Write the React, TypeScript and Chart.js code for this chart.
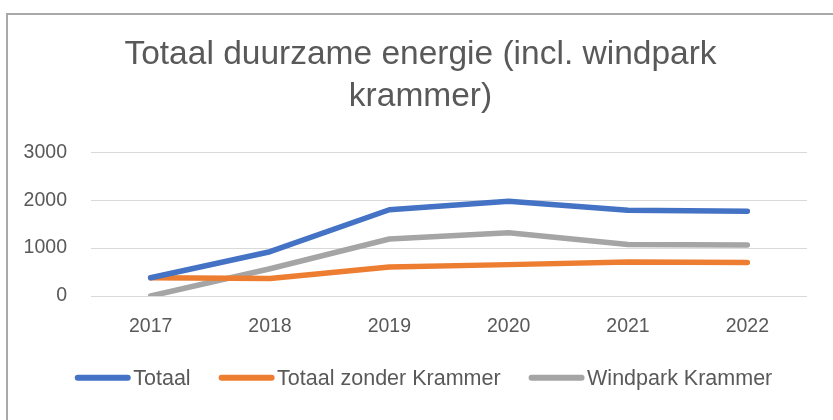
import React, { useEffect, useRef } from "react";
import { Chart, registerables } from "chart.js";

Chart.register(...registerables);

const TITLE_LINES = ["Totaal duurzame energie (incl. windpark", "krammer)"];
const YEARS = ["2017", "2018", "2019", "2020", "2021", "2022"];
const TOTAAL = [380, 925, 1800, 1980, 1790, 1770];
const TOTAAL_ZONDER_KRAMMER = [380, 365, 605, 655, 710, 700];
const WINDPARK_KRAMMER = [0, 570, 1190, 1320, 1075, 1065];
const SERIES_NAMES = ["Totaal", "Totaal zonder Krammer", "Windpark Krammer"];
const SERIES_COLORS = ["#4472C4", "#ED7D31", "#A5A5A5"];
const Y_MAX = 3000;
const Y_STEP = 1000;

const FONT = '"Liberation Sans", Arial, sans-serif';
const TEXT_COLOR = "#595959";
const LEGEND_FONT_SIZE = 21.5;

const legendPlugin = {
  id: "customBottomLegend",
  afterLayout(chart: any) {
    // let the y tick labels use the space to the left of the axis box
    if (chart.scales.y) chart.scales.y.left = 0;
  },
  afterDraw(chart: any) {
    const ctx = chart.ctx as CanvasRenderingContext2D;
    ctx.save();
    ctx.font = `${LEGEND_FONT_SIZE}px ${FONT}`;
    const items = chart.data.datasets.map((ds: any) => ({
      label: ds.label as string,
      color: ds.borderColor as string,
      w: ctx.measureText(ds.label).width,
    }));
    const lineLen = 56;
    const lineW = 6;
    const gap = 2.5;
    const itemGap = 28;
    const total =
      items.reduce((s: number, it: any) => s + lineLen + gap + it.w, 0) +
      itemGap * (items.length - 1);
    let x = chart.width / 2 + 3 - total / 2;
    const y = chart.height - 42.3;
    for (const it of items) {
      ctx.strokeStyle = it.color;
      ctx.lineWidth = lineW;
      ctx.lineCap = "round";
      ctx.beginPath();
      ctx.moveTo(x + lineW / 2, y);
      ctx.lineTo(x + lineLen - lineW / 2, y);
      ctx.stroke();
      ctx.fillStyle = TEXT_COLOR;
      ctx.textAlign = "left";
      ctx.textBaseline = "alphabetic";
      ctx.fillText(it.label, x + lineLen + gap, y + 0.358 * LEGEND_FONT_SIZE);
      x += lineLen + gap + it.w + itemGap;
    }
    ctx.restore();
  },
};

export default function App() {
  const ref = useRef<HTMLCanvasElement | null>(null);

  useEffect(() => {
    if (!ref.current) return;
    const seriesData = [TOTAAL, TOTAAL_ZONDER_KRAMMER, WINDPARK_KRAMMER];
    const chart = new Chart(ref.current, {
      type: "line",
      data: {
        labels: YEARS,
        datasets: SERIES_NAMES.map((name, i) => ({
          label: name,
          data: seriesData[i],
          borderColor: SERIES_COLORS[i],
          backgroundColor: SERIES_COLORS[i],
          borderWidth: 5.5,
          borderCapStyle: "round",
          borderJoinStyle: "round",
          pointRadius: 0,
          pointHoverRadius: 0,
          tension: 0,
          fill: false,
        })),
      },
      options: {
        responsive: false,
        animation: false,
        layout: { padding: { left: 26, right: 26, top: 0, bottom: 63.4 } },
        plugins: {
          legend: { display: false },
          tooltip: { enabled: false },
          title: {
            display: true,
            text: TITLE_LINES,
            color: TEXT_COLOR,
            font: { family: FONT, size: 33.5, weight: "normal", lineHeight: 1.2537 },
            padding: { top: 18.3, bottom: 35 },
          },
        },
        scales: {
          x: {
            offset: true,
            grid: { display: false, drawTicks: false },
            border: { display: false },
            ticks: {
              color: TEXT_COLOR,
              font: { family: FONT, size: 19.5 },
              padding: 18.6,
              maxRotation: 0,
            },
          },
          y: {
            min: 0,
            max: Y_MAX,
            afterFit: (scale: any) => {
              scale.width = 57;
            },
            grid: { color: "#d9d9d9", lineWidth: 1, drawTicks: false },
            border: { display: false },
            ticks: {
              stepSize: Y_STEP,
              color: TEXT_COLOR,
              font: { family: FONT, size: 19.5 },
              padding: 24,
              callback: (v: any) => String(v),
            },
          },
        },
      },
      plugins: [legendPlugin],
    } as any);
    return () => chart.destroy();
  }, []);

  return (
    <div
      style={{
        position: "fixed",
        left: 0,
        top: 0,
        width: 833,
        height: 420,
        background: "#ffffff",
        overflow: "hidden",
      }}
    >
      <div
        style={{
          position: "absolute",
          left: 6,
          top: 13,
          width: 840,
          height: 420,
          borderLeft: "2px solid #a9a9a9",
          borderTop: "2px solid #a9a9a9",
        }}
      />
      <canvas
        ref={ref}
        width={825}
        height={405}
        style={{ position: "absolute", left: 8, top: 15, width: 825, height: 405 }}
      />
    </div>
  );
}
